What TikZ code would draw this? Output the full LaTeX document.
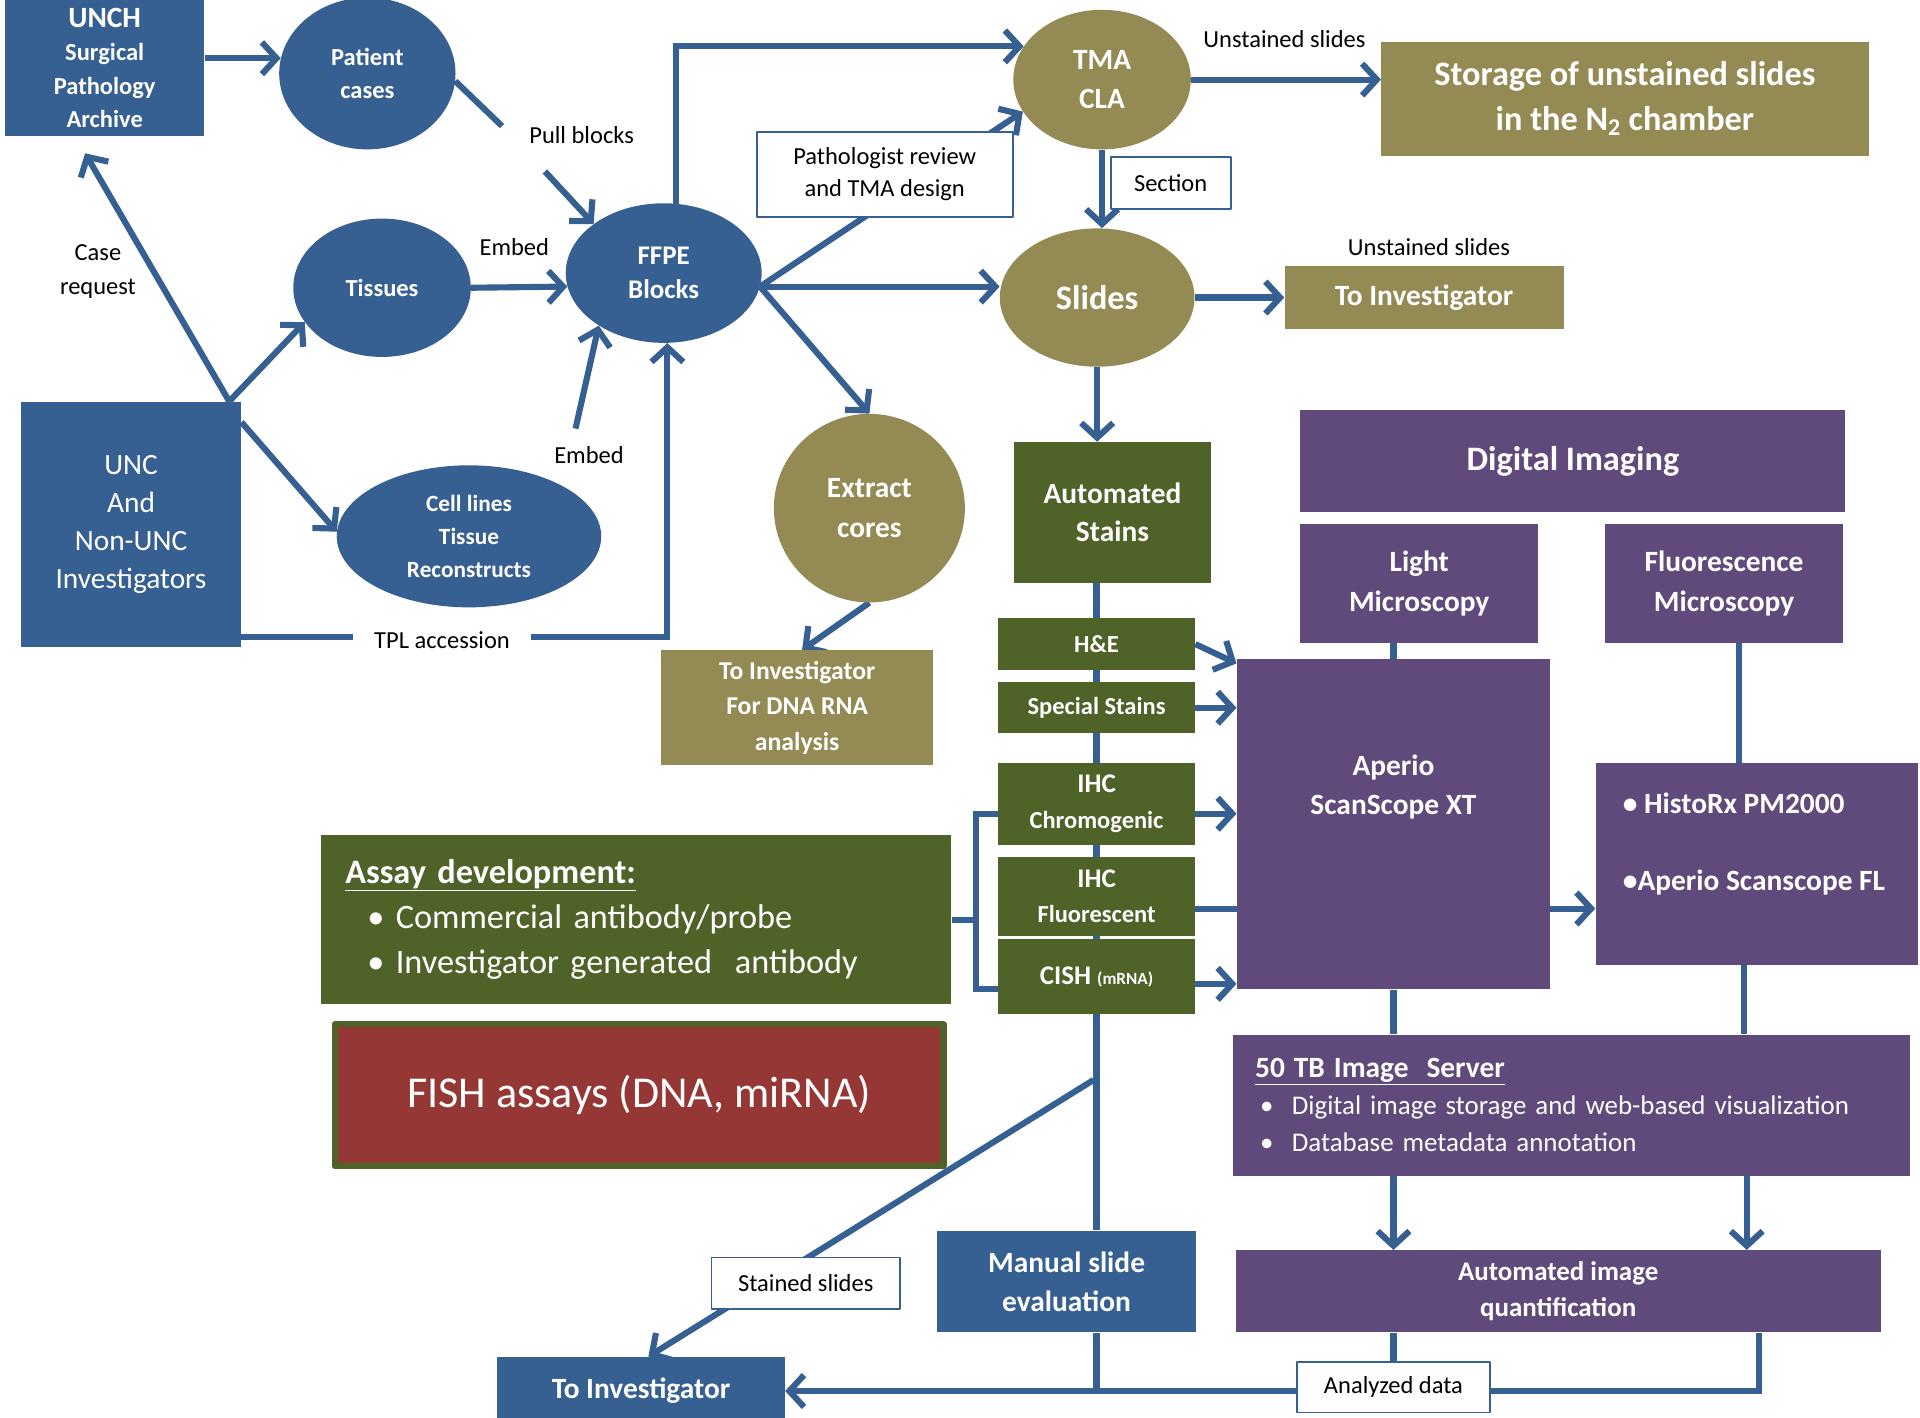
\documentclass[tikz,border=0pt]{standalone}
\usepackage{fontspec}
\setmainfont{Carlito}
\usetikzlibrary{arrows.meta,shapes.geometric,backgrounds}
\definecolor{cBlue}{RGB}{55,96,146}
\definecolor{cOlive}{RGB}{148,138,84}
\definecolor{cGreen}{RGB}{79,98,40}
\definecolor{cPurple}{RGB}{96,74,123}
\definecolor{cRed}{RGB}{149,55,53}
\newcommand{\fsz}[2]{\fontsize{#1}{#2}\selectfont}
\begin{document}
\begin{tikzpicture}[x=1pt,y=-1pt,line join=round,
  tbox/.style={rectangle,inner sep=0pt,align=center,text=white},
  oval/.style={ellipse,inner sep=0pt,align=center,text=white},
  conn/.style={draw=cBlue,line width=5pt},
  arr/.style={conn,-{Straight Barb[length=12pt,width=26pt]}},
  notebox/.style={rectangle,draw=cBlue,line width=1.5pt,fill=white,inner sep=0pt,align=center,font=\fsz{20}{26}},
  lbl/.style={align=center,inner sep=0pt,font=\fsz{20}{28}}]
\useasboundingbox (0,0) rectangle (1568,1158);

% sources
\node[tbox,fill=cBlue,minimum width=163pt,minimum height=111pt,font=\fsz{20}{27}\bfseries] (unch) at (85.5,55.5) {{\fsz{24}{27}UNCH}\\Surgical\\Pathology\\Archive};
\node[tbox,fill=cBlue,minimum width=180pt,minimum height=200pt,font=\fsz{24}{31}] (unc) at (107,428) {UNC\\And\\Non-UNC\\Investigators};
\node[oval,fill=cBlue,minimum width=144pt,minimum height=124pt,font=\fsz{20}{27}\bfseries] (patient) at (300,60) {Patient\\cases};
\node[oval,fill=cBlue,minimum width=145pt,minimum height=113pt,font=\fsz{20}{27}\bfseries] (tissues) at (312,235) {Tissues};
\node[oval,fill=cBlue,minimum width=160pt,minimum height=114pt,font=\fsz{22}{28}\bfseries] (ffpe) at (542,223) {FFPE\\Blocks};
\node[oval,fill=cBlue,minimum width=216pt,minimum height=116pt,font=\fsz{19}{27}\bfseries] (cell) at (383,438) {Cell lines\\Tissue\\Reconstructs};

% slides and cores
\node[oval,fill=cOlive,minimum width=145pt,minimum height=114pt,font=\fsz{24}{32}\bfseries] (tma) at (900,65) {TMA\\CLA};
\node[oval,fill=cOlive,minimum width=159pt,minimum height=113pt,font=\fsz{28}{32}\bfseries] (slides) at (896,243) {Slides};
\node[oval,fill=cOlive,minimum width=156pt,minimum height=154pt,font=\fsz{24}{32}\bfseries] (extract) at (710,415) {Extract\\cores};
\node[tbox,fill=cOlive,minimum width=398pt,minimum height=93pt,font=\fsz{28}{37}\bfseries] (storage) at (1327,80.5) {Storage of unstained slides\\in the N\textsubscript{2} chamber};
\node[tbox,fill=cOlive,minimum width=228pt,minimum height=52pt,font=\fsz{24}{28}\bfseries] (toinvA) at (1163,243) {To Investigator};
\node[tbox,fill=cOlive,minimum width=222pt,minimum height=94pt,font=\fsz{21}{29}\bfseries] (toinvdna) at (651,578) {To Investigator\\For DNA RNA\\analysis};

% stains
\node[tbox,fill=cGreen,minimum width=161pt,minimum height=115pt,font=\fsz{24}{31}\bfseries] (autostain) at (908.5,418.5) {Automated\\Stains};
\node[tbox,fill=cGreen,minimum width=161pt,minimum height=42pt,font=\fsz{20}{26}\bfseries] (he) at (895.5,526) {H\&E};
\node[tbox,fill=cGreen,minimum width=161pt,minimum height=42pt,font=\fsz{20}{26}\bfseries] (special) at (895.5,578) {Special Stains};
\node[tbox,fill=cGreen,minimum width=161pt,minimum height=67pt,font=\fsz{20}{29}\bfseries] (ihcc) at (895.5,656.5) {{\fsz{22}{29}IHC}\\Chromogenic};
\node[tbox,fill=cGreen,minimum width=161pt,minimum height=64pt,font=\fsz{20}{29}\bfseries] (ihcf) at (895.5,732) {{\fsz{22}{29}IHC}\\Fluorescent};
\node[tbox,fill=cGreen,minimum width=161pt,minimum height=61pt,font=\fsz{22}{28}\bfseries] (cish) at (895.5,797.5) {CISH {\fsz{14}{16}(mRNA)}};
\node[tbox,fill=cGreen,text width=475pt,inner xsep=20pt,minimum height=138pt,align=left,font=\fsz{28}{37}] (assay) at (519.5,751) {\textbf{\underline{Assay development:}}\\\hspace*{18pt}\textbullet\ Commercial antibody/probe\\\hspace*{18pt}\textbullet\ Investigator generated\ \ antibody};
\node[tbox,fill=cRed,draw=cGreen,line width=5pt,minimum width=497pt,minimum height=116pt,font=\fsz{36}{40}] (fish) at (522,894.5) {FISH assays (DNA, miRNA)};

% imaging
\node[tbox,fill=cPurple,minimum width=445pt,minimum height=83pt,font=\fsz{28}{32}\bfseries] (digital) at (1284.5,376.5) {Digital Imaging};
\node[tbox,fill=cPurple,minimum width=194pt,minimum height=97pt,font=\fsz{24}{32}\bfseries] (light) at (1159,476.5) {Light\\Microscopy};
\node[tbox,fill=cPurple,minimum width=194pt,minimum height=97pt,font=\fsz{24}{32}\bfseries] (fluor) at (1408,476.5) {Fluorescence\\Microscopy};
\node[tbox,fill=cPurple,minimum width=256pt,minimum height=270pt,
  label={[text=white,font=\fsz{24}{32}\bfseries,align=center,yshift=30pt]center:Aperio\\ScanScope XT}] (aperio) at (1138,673) {};
\node[tbox,fill=cPurple,minimum width=263pt,minimum height=165pt,
  label={[text=white,font=\fsz{24}{29}\bfseries,align=left,anchor=west,xshift=19pt,yshift=16pt]west:\textbullet\ HistoRx PM2000\\[34pt]\textbullet Aperio Scanscope FL}] (histo) at (1434.5,705.5) {};
\node[tbox,fill=cPurple,text width=517pt,inner xsep=18pt,minimum height=115pt,align=left,font=\fsz{22}{30}] (server) at (1283.5,902.5) {{\fsz{24}{30}\bfseries\underline{50 TB Image\ \ Server}}\\\hspace*{4pt}\makebox[26pt][l]{\textbullet}Digital image storage and web-based visualization\\\hspace*{4pt}\makebox[26pt][l]{\textbullet}Database metadata annotation};
\node[tbox,fill=cPurple,minimum width=527pt,minimum height=67pt,font=\fsz{22}{29}\bfseries] (quant) at (1272.5,1054.5) {Automated image\\quantification};

% evaluation
\node[tbox,fill=cBlue,minimum width=212pt,minimum height=83pt,font=\fsz{24}{32}\bfseries] (manual) at (871,1046.5) {Manual slide\\evaluation};
\node[tbox,fill=cBlue,minimum width=235pt,minimum height=56pt,font=\fsz{24}{28}\bfseries] (toinvB) at (523.5,1136) {To Investigator};

% labels
\node[notebox,minimum width=209pt,minimum height=69pt] (pathnote) at (722.5,142.5) {Pathologist review\\and TMA design};
\node[notebox,minimum width=98pt,minimum height=43pt] (sectnote) at (956,149.5) {Section};
\node[notebox,minimum width=154pt,minimum height=42pt] (stainnote) at (658,1048) {Stained slides};
\node[notebox,minimum width=158pt,minimum height=41pt] (datanote) at (1138,1133) {Analyzed data};
\node[lbl] (unsA) at (1049,32) {Unstained slides};
\node[lbl] (unsB) at (1167,202) {Unstained slides};
\node[lbl] (pull) at (475,110) {Pull blocks};
\node[lbl] (embedA) at (420,202) {Embed};
\node[lbl] (embedB) at (481,372) {Embed};
\node[lbl] (caserq) at (80,222) {Case\\request};
\node[lbl,fill=white,inner xsep=17pt,inner ysep=4pt] (tpl) at (361,523) {TPL accession};

\coordinate (pullA) at (410,103);
\coordinate (pullB) at (445,140);
\coordinate (embedtail) at (470,350);
\coordinate (stainfork) at (893,882);

\begin{pgfonlayer}{background}
% sample intake
\draw[arr] (unch.east |- patient.170) -- (patient.170);
\draw[conn] (patient.-5) -- (pullA);
\draw[arr] (pullB) -- (ffpe.145);
\draw[arr] (tissues.east) -- (ffpe.188);
\draw[arr] (embedtail) -- (ffpe.219);
\draw[arr] ([xshift=-10pt]unc.north east) -- ([xshift=-16pt,yshift=-14pt]unch.south);
\draw[arr] ([xshift=-10pt]unc.north east) -- (tissues.204);
\draw[arr] ([yshift=-17pt]unc.north east) -- (cell.178);
\draw[arr] ([yshift=8pt]unc.south east) -| ([xshift=3pt]ffpe.south);
% blocks to slides
\draw[arr] (ffpe.80) |- (tma.157);
\draw[arr] (ffpe.-8) -- (tma.202);
\draw[arr] (ffpe.-8) -- (ffpe.-8 -| slides.west);
\draw[arr] (ffpe.-8) -- (extract.north);
\draw[arr] (tma.east) -- (tma.east -| storage.west);
\draw[arr] (tma.south) -- (tma.south |- slides.north);
\draw[arr] (slides.east) -- (slides.east -| toinvA.west);
\draw[arr] (slides.south) -- (slides.south |- autostain.north);
\draw[arr] (extract.south) -- ([xshift=4pt]toinvdna.north);
% stain column
\draw[conn] (autostain.south -| he.north) -- (he.north |- manual.north);
\draw[conn] (he.north |- manual.south) -- (he.north |- toinvB.east);
\draw[arr] (he.east) -- ([yshift=-4pt]aperio.north west);
\draw[arr] (special.east) -- (special.east -| aperio.west);
\draw[arr] ([yshift=-8pt]ihcc.east) -- ([yshift=-8pt]ihcc.east -| aperio.west);
\draw[arr] ([yshift=-10pt]ihcf.east) -- ([yshift=-10pt]ihcf.east -| histo.west);
\draw[arr] ([yshift=-6pt]cish.east) -- ([yshift=-6pt]cish.east -| aperio.west);
\draw[conn] (assay.east) -- ([xshift=20pt]assay.east);
\draw[conn] ([yshift=-8pt]ihcc.west) -| ([xshift=20pt]assay.east) |- ([yshift=-10pt]cish.west);
% imaging
\draw[conn] (aperio.north |- light.south) -- (aperio.north);
\draw[conn] ([xshift=12pt]fluor.south) -- ([xshift=12pt]fluor.south |- histo.north);
\draw[conn] (aperio.south) -- (aperio.south |- server.north);
\draw[conn] ([xshift=-10pt]histo.south) -- ([xshift=-10pt]histo.south |- server.north);
\draw[arr] (aperio.south |- server.south) -- (aperio.south |- quant.north);
\draw[arr] ([xshift=-8pt]histo.south |- server.south) -- ([xshift=-8pt]histo.south |- quant.north);
% results
\draw[conn] (datanote.north |- quant.south) -- (datanote.north);
\draw[arr] ([xshift=-100pt]quant.south east) |- (toinvB.east);
\draw[arr] (stainfork) -- ([xshift=6pt]toinvB.north);
\end{pgfonlayer}
\end{tikzpicture}
\end{document}
